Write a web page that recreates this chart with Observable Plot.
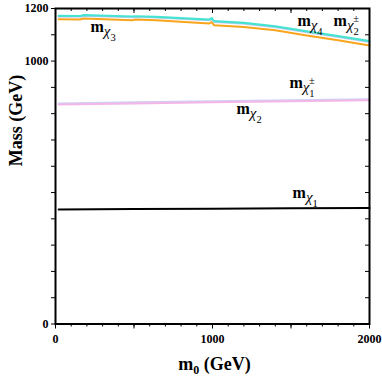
<!DOCTYPE html>
<html><head><meta charset="utf-8">
<script src="https://cdn.jsdelivr.net/npm/d3@7"></script>
<script src="https://cdn.jsdelivr.net/npm/@observablehq/plot@0.6"></script>
<style>body{margin:0;background:#fff} svg{display:block}</style>
</head><body><div id="chart"></div>
<script>
// m0 sample points for the heavy states
const m0Heavy = [20, 160, 175, 490, 510, 640, 980, 995, 1010, 1200, 1400, 1600, 1800, 2000];
const mChi4   = [1172, 1171.5, 1174.5, 1169.5, 1170.5, 1168.5, 1158, 1163, 1152, 1145, 1132, 1113, 1095, 1076];
const mChi2pm = [1169, 1168.5, 1171.5, 1166.5, 1167.5, 1165.5, 1155, 1160, 1149, 1142, 1129, 1110, 1092, 1073];
const mChi3   = [1159, 1158.5, 1162, 1155.5, 1158, 1155.5, 1143, 1148, 1136.5, 1130, 1117, 1097, 1079, 1059];
// m0 sample points for the light states
const m0Light = [20, 500, 1000, 1500, 2000];
const mChi1pm = [839, 843, 847, 851, 855];
const mChi2   = [835, 839, 843, 847, 851];
const mChi1   = [435.5, 437, 438.5, 440, 441];
// curve labels
const labelNames = ["χ3", "χ4", "χ2±", "χ1±", "χ2", "χ1"];
const labelM0    = [223, 1541, 1771, 1490, 1153, 1510];
const labelMass  = [1112, 1135, 1135, 896, 797, 481];
// ticks
const xTicksMinor = d3.range(0, 2001, 100);
const xTicksMajor = [0, 500, 1000, 1500, 2000];
const xTickLabels = [0, 1000, 2000];
const yTicks = d3.range(0, 1201, 100);
const yTickLabels = [0, 1000, 1200];

const W = 382, H = 382, mL = 55, mR = 13, mT = 8, mB = 58.5;
const pW = W - mL - mR, pH = H - mT - mB;

const series = (xs, ys) => xs.map((x, i) => ({x, y: ys[i]}));
const labels = labelNames.map((n, i) => ({n, x: labelM0[i], y: labelMass[i]}));

const chart = Plot.plot({
  width: W, height: H,
  marginLeft: mL, marginRight: mR, marginTop: mT, marginBottom: mB,
  style: {fontFamily: "'Liberation Serif', serif", fontWeight: "bold", background: "white", color: "black"},
  x: {domain: [0, 2000], label: null},
  y: {domain: [0, 1200], label: null},
  marks: [
    Plot.line(series(m0Light, mChi1pm), {x: "x", y: "y", stroke: "#cfd0f4", strokeWidth: 2}),
    Plot.line(series(m0Light, mChi2), {x: "x", y: "y", stroke: "#f3b6e6", strokeWidth: 2}),
    Plot.line(series(m0Light, mChi1), {x: "x", y: "y", stroke: "black", strokeWidth: 2}),
    Plot.line(series(m0Heavy, mChi3), {x: "x", y: "y", stroke: "#f8a51c", strokeWidth: 2}),
    Plot.line(series(m0Heavy, mChi2pm), {x: "x", y: "y", stroke: "#d4c8f0", strokeWidth: 2}),
    Plot.line(series(m0Heavy, mChi4), {x: "x", y: "y", stroke: "#46e2d2", strokeWidth: 2.2}),
    // axes
    Plot.axisX(xTicksMinor, {tickSize: 3, tickFormat: () => "", label: null}),
    Plot.axisX(xTicksMajor, {tickSize: 5, tickPadding: 5, fontSize: 12, fontWeight: "bold",
      tickFormat: d => xTickLabels.includes(d) ? String(d) : "", label: null}),
    Plot.axisY(yTicks, {tickSize: 4, tickPadding: 3, fontSize: 12, fontWeight: "bold",
      tickFormat: d => yTickLabels.includes(d) ? String(d) : "", label: null}),
    // inward ticks on top and right
    Plot.tickX(xTicksMinor, {x: d => d, insetBottom: pH - 3, stroke: "black"}),
    Plot.tickX(xTicksMajor, {x: d => d, insetBottom: pH - 5, stroke: "black"}),
    Plot.tickY(yTicks, {y: d => d, insetLeft: pW - 4, stroke: "black"}),
    Plot.frame({stroke: "black", strokeWidth: 2}),
    // curve labels
    Plot.text(labels, {x: "x", y: "y", text: "n", textAnchor: "start", lineAnchor: "bottom",
      fontSize: 15, className: "chi-label"}),
    // axis titles
    Plot.text(["m0 (GeV)"], {text: d => d, frameAnchor: "bottom", dy: 46, dx: 2, lineAnchor: "bottom",
      fontSize: 18, className: "xlab"}),
    Plot.text(["Mass (GeV)"], {text: d => d, frameAnchor: "left", dx: -34, rotate: -90, lineAnchor: "bottom",
      fontSize: 18, className: "ylab"})
  ]
});

document.getElementById("chart").appendChild(chart);

const NS = "http://www.w3.org/2000/svg";
function tspan(parent, txt, attrs) {
  const t = document.createElementNS(NS, "tspan");
  t.textContent = txt;
  for (const k in attrs) t.setAttribute(k, attrs[k]);
  parent.appendChild(t);
  return t;
}
chart.querySelectorAll("g.chi-label text").forEach(el => {
  const s = el.textContent;
  const digit = s[1];
  const sup = s.length > 2 ? s.slice(2) : "";
  el.textContent = "";
  tspan(el, "m", {"font-weight": "bold", "font-size": 16});
  tspan(el, "χ", {"font-weight": "normal", "font-style": "italic", "font-size": 15, dy: 4});
  tspan(el, digit, {"font-weight": "normal", "font-size": 10.5, dy: 5});
  if (sup) tspan(el, sup, {"font-weight": "normal", "font-size": 10.5, dx: -5.5, dy: -13});
});
chart.querySelectorAll("g.xlab text").forEach(el => {
  el.textContent = "";
  tspan(el, "m", {});
  tspan(el, "0", {"font-size": 12, dy: 4});
  tspan(el, " (GeV)", {dy: -4});
});
</script></body></html>
